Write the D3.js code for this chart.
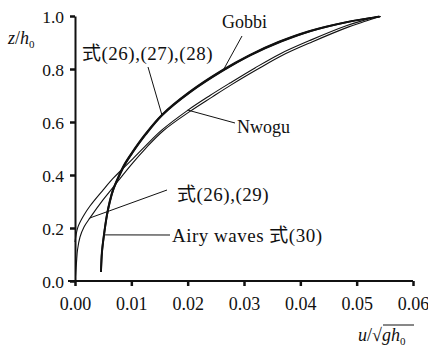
<!DOCTYPE html>
<html>
<head>
<meta charset="utf-8">
<script src="https://cdn.jsdelivr.net/npm/d3@7"></script>
<style>
  body { margin: 0; background: #fff; }
  svg { display: block; }
  text { font-family: 'Liberation Serif', 'Times New Roman', serif; fill: #111; }
  .cjk { font-family: 'Noto Sans CJK SC', sans-serif; }
</style>
</head>
<body>
<div id="chart"></div>
<script>
// velocity profile u/sqrt(g h0) vs depth z/h0
const xTicks = [0, 0.01, 0.02, 0.03, 0.04, 0.05, 0.06];
const yTicks = [0, 0.2, 0.4, 0.6, 0.8, 1.0];

const zAiry = [0.034, 0.109, 0.174, 0.249, 0.302, 0.343, 0.396, 0.442, 0.483, 0.551, 0.626, 0.713, 0.795, 0.852, 0.903, 0.943, 0.977, 0.998];
const uAiry = [0.00462, 0.00479, 0.00515, 0.00568, 0.00621, 0.00675, 0.00781, 0.00888, 0.01012, 0.01243, 0.01544, 0.02041, 0.02627, 0.03107, 0.03639, 0.04172, 0.04828, 0.05414];

const zEq2628 = zAiry;
const uEq2628 = [0.00455, 0.00472, 0.00508, 0.0056, 0.00612, 0.00665, 0.0077, 0.00876, 0.0100, 0.0123, 0.0153, 0.0202, 0.0260, 0.0308, 0.0361, 0.0414, 0.0480, 0.0539];

const zGobbi = zAiry;
const uGobbi = [0.00468, 0.00486, 0.00522, 0.00576, 0.0063, 0.00685, 0.00792, 0.0090, 0.01025, 0.01258, 0.0156, 0.0206, 0.0265, 0.0313, 0.0367, 0.0420, 0.0485, 0.0543];

const zNwogu = [0.147, 0.204, 0.249, 0.283, 0.343, 0.387, 0.421, 0.462, 0.508, 0.570, 0.645, 0.700, 0.747, 0.804, 0.857, 0.908, 0.964, 0.985, 1.0];
const uNwogu = [0.0, 0.00053, 0.0016, 0.00266, 0.00497, 0.00675, 0.00834, 0.0103, 0.01243, 0.01544, 0.02006, 0.02396, 0.02751, 0.03195, 0.03639, 0.04172, 0.04828, 0.05148, 0.05396];

const zEq2629 = [0.019, 0.072, 0.117, 0.166, 0.204, 0.238, 0.306, 0.353, 0.396, 0.447, 0.498, 0.566, 0.640, 0.694, 0.742, 0.798, 0.851, 0.902, 0.958, 0.981, 0.998];
const uEq2629 = [0.00009, 0.00027, 0.00044, 0.00089, 0.0016, 0.00266, 0.00497, 0.00675, 0.00834, 0.0103, 0.01243, 0.01562, 0.02041, 0.02432, 0.02787, 0.03231, 0.03675, 0.04207, 0.04846, 0.05166, 0.05414];

const config = { width: 338, height: 265, margin: { left: 75, top: 16 } };

const svg = d3.select('#chart').append('svg')
  .attr('width', 428).attr('height', 348);
const g = svg.append('g')
  .attr('transform', 'translate(' + config.margin.left + ',' + config.margin.top + ')');

const scaleX = d3.scaleLinear().domain([0, 0.06]).range([0, config.width]);
const scaleY = d3.scaleLinear().domain([0, 1]).range([config.height, 0]);

// axes
const xAxis = g.append('g')
  .attr('transform', 'translate(0,' + config.height + ')')
  .call(d3.axisBottom(scaleX).tickValues(xTicks).tickFormat(d3.format('.2f')).tickSize(5).tickSizeOuter(0).tickPadding(11));
xAxis.select('.domain').attr('d', 'M-7,0H' + config.width);

const yAxis = g.append('g')
  .call(d3.axisLeft(scaleY).tickValues(yTicks).tickFormat(d3.format('.1f')).tickSize(5).tickSizeOuter(0).tickPadding(6));

[xAxis, yAxis].forEach(ax => {
  ax.select('.domain').attr('stroke', '#111').attr('stroke-width', 2);
  ax.selectAll('.tick line').attr('stroke', '#111').attr('stroke-width', 2.5);
  ax.selectAll('.tick text').attr('fill', '#111')
    .style('font-family', "'Liberation Serif', serif");
});
xAxis.selectAll('.tick text').attr('font-size', 18);
yAxis.selectAll('.tick text').attr('font-size', 17.5).attr('dy', '0.35em');

// curves
const line = d3.line()
  .x(d => scaleX(d[0]))
  .y(d => scaleY(d[1]))
  .curve(d3.curveCatmullRom.alpha(0.5));

const series = [
  { u: uNwogu, z: zNwogu, w: 1.1 },
  { u: uEq2629, z: zEq2629, w: 1.1 },
  { u: uGobbi, z: zGobbi, w: 1.1 },
  { u: uEq2628, z: zEq2628, w: 1.3 },
  { u: uAiry, z: zAiry, w: 1.8 }
];

g.selectAll('.curve')
  .data(series)
  .enter().append('path')
  .attr('class', 'curve')
  .attr('fill', 'none')
  .attr('stroke', '#111')
  .attr('stroke-width', d => d.w)
  .attr('d', d => line(d.u.map((u, i) => [u, d.z[i]])));

// annotations: leader from a point on a curve to the label
const notes = [
  { text: '式(26),(27),(28)', at: [0.01544, 0.626], from: [148, 67], tx: 82, ty: 60, fs: 19, ls: 0.5 },
  { text: 'Gobbi', at: [0.0263, 0.795], from: [242, 36], tx: 222, ty: 28, fs: 18, ls: 0 },
  { text: 'Nwogu', at: [0.0200, 0.645], from: [235, 123], tx: 237, ty: 133, fs: 18, ls: 0 },
  { text: '式(26),(29)', at: [0.00266, 0.238], from: [167, 190], tx: 177, ty: 201, fs: 19, ls: 0.5 },
  { text: 'Airy waves 式(30)', at: [0.0052, 0.174], from: [170, 235], tx: 172, ty: 242, fs: 19, ls: 0.5 }
];

notes.forEach(n => {
  svg.append('line')
    .attr('x1', config.margin.left + scaleX(n.at[0]))
    .attr('y1', config.margin.top + scaleY(n.at[1]))
    .attr('x2', n.from[0]).attr('y2', n.from[1])
    .attr('stroke', '#111').attr('stroke-width', 1);
  const t = svg.append('text').attr('x', n.tx).attr('y', n.ty)
    .attr('font-size', n.fs).attr('letter-spacing', n.ls);
  n.text.split(/(式)/).filter(s => s).forEach(s => {
    t.append('tspan').attr('class', s === '式' ? 'cjk' : null).text(s);
  });
});

// axis titles
const yl = svg.append('text').attr('x', 8).attr('y', 44).attr('font-size', 18);
yl.append('tspan').attr('font-style', 'italic').text('z');
yl.append('tspan').text('/');
yl.append('tspan').attr('font-style', 'italic').text('h');
yl.append('tspan').attr('font-size', 11).attr('dy', 4).text('0');

const xl = svg.append('text').attr('x', 358).attr('y', 341).attr('font-size', 18);
xl.append('tspan').attr('font-style', 'italic').text('u');
xl.append('tspan').text('/√');
xl.append('tspan').attr('font-style', 'italic').text('gh');
xl.append('tspan').attr('font-size', 11).attr('dy', 4).text('0');
svg.append('line')
  .attr('x1', 383).attr('x2', 414).attr('y1', 325).attr('y2', 325)
  .attr('stroke', '#111').attr('stroke-width', 1);
</script>
</body>
</html>
